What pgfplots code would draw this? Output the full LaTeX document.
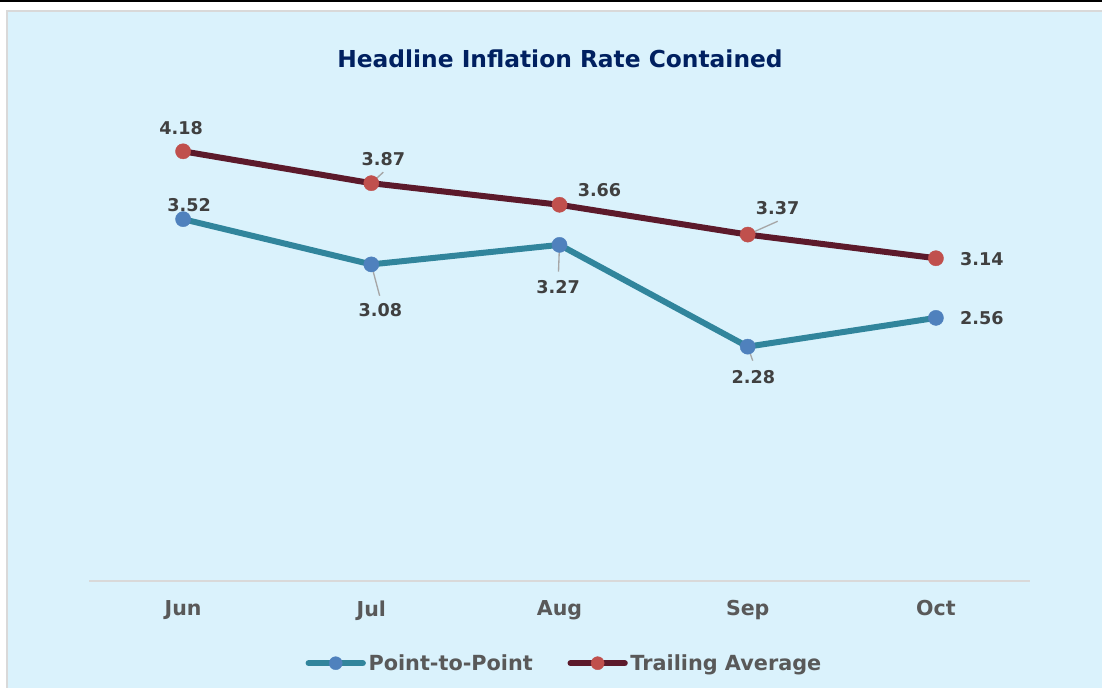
\documentclass[border=0pt]{standalone}
\usepackage{fontspec}
\setmainfont{DejaVu Sans}
\usepackage{pgfplots}
\pgfplotsset{compat=1.18}
\definecolor{cbg}{HTML}{DAF2FC}
\definecolor{cframe}{HTML}{D9D9D9}
\definecolor{ctitle}{HTML}{002060}
\definecolor{cteal}{HTML}{31859C}
\definecolor{cblue}{HTML}{4F81BD}
\definecolor{cmaroon}{HTML}{5C1A2B}
\definecolor{cred}{HTML}{C0504D}
\definecolor{clabel}{HTML}{404040}
\definecolor{ctick}{HTML}{595959}
\definecolor{clead}{HTML}{A6A6A6}
\tikzset{dl/.style={font=\fontsize{13.2}{15}\selectfont\bfseries,text=clabel,inner sep=0pt}}

\begin{document}
\begin{tikzpicture}
\useasboundingbox (0,0) rectangle (826.5pt,-516pt);
\clip (0,0) rectangle (826.5pt,-516pt);
\fill[white] (0,0) rectangle (826.5pt,-516pt);
\draw[black,line width=1.5pt] (0,-0.75pt) -- (826.5pt,-0.75pt);
\draw[draw=cframe,fill=cbg,line width=1pt] (5.25pt,-8.25pt) rectangle (840pt,-530pt);
\node[font=\fontsize{17.5}{20}\selectfont\bfseries,text=ctitle] at (420pt,-44.25pt) {Headline Inflation Rate Contained};

\begin{axis}[at={(66.75pt,-435.8pt)},anchor=south west,scale only axis,
  width=705.75pt,height=347pt,xmin=-0.5,xmax=4.5,ymin=0,ymax=4.5,clip=false,
  axis x line=bottom,axis y line=none,x axis line style={draw=cframe,line width=1.2pt,-},
  xtick={0,1,2,3,4},xticklabels={Jun,Jul,Aug,Sep,Oct},ytick=\empty,major tick length=0pt,
  xticklabel style={font=\fontsize{15.4}{18}\selectfont\bfseries,text=ctick,inner sep=0pt},
  xticklabel shift=14.5pt,
  every axis plot/.append style={line width=4.5pt,line join=round,line cap=round,mark=*,mark size=5.7pt},
  legend style={at={(0.5056,-0.1775)},anchor=center,draw=none,fill=none,
    font=\fontsize{15.6}{18}\selectfont\bfseries,text=ctick,
    nodes={inner sep=2pt},/tikz/every even column/.append style={column sep=24pt}},
  legend columns=2,legend cell align=left,
  legend image code/.code={\draw[#1,mark repeat=2,mark phase=2,mark size=4.9pt] plot coordinates {(0pt,0pt) (20.35pt,0pt) (40.7pt,0pt)};}]
\addplot[cteal,mark options={solid,draw=cblue,fill=cblue,line width=0.3pt}] coordinates {(0,3.52)(1,3.08)(2,3.27)(3,2.28)(4,2.56)};
\addlegendentry{Point-to-Point}
\addplot[cmaroon,mark options={solid,draw=cred,fill=cred,line width=0.3pt}] coordinates {(0,4.18)(1,3.87)(2,3.66)(3,3.37)(4,3.14)};
\addlegendentry{Trailing Average}
% leader lines
\draw[clead,line width=1pt] (axis cs:1,3.87) -- ++(9pt,8.25pt);
\draw[clead,line width=1pt] (axis cs:1,3.08) -- ++(6.25pt,-23.5pt);
\draw[clead,line width=1pt] (axis cs:2,3.27) -- ++(-0.75pt,-20pt);
\draw[clead,line width=1pt] (axis cs:3,3.37) -- ++(22.5pt,10pt);
\draw[clead,line width=1pt] (axis cs:3,2.28) -- ++(3.75pt,-10.5pt);
% data labels
\node[dl,xshift=-1.5pt,yshift=17.5pt] at (axis cs:0,4.18) {4.18};
\node[dl,xshift=4.5pt,yshift=10.5pt] at (axis cs:0,3.52) {3.52};
\node[dl,xshift=9pt,yshift=18pt] at (axis cs:1,3.87) {3.87};
\node[dl,xshift=30pt,yshift=11.25pt] at (axis cs:2,3.66) {3.66};
\node[dl,xshift=6.75pt,yshift=-34pt] at (axis cs:1,3.08) {3.08};
\node[dl,xshift=-1.1pt,yshift=-31.5pt] at (axis cs:2,3.27) {3.27};
\node[dl,xshift=22.5pt,yshift=20pt] at (axis cs:3,3.37) {3.37};
\node[dl,xshift=34.5pt,yshift=-0.75pt] at (axis cs:4,3.14) {3.14};
\node[dl,xshift=34.5pt,yshift=0pt] at (axis cs:4,2.56) {2.56};
\node[dl,xshift=4.2pt,yshift=-22.7pt] at (axis cs:3,2.28) {2.28};
\end{axis}
\end{tikzpicture}
\end{document}
